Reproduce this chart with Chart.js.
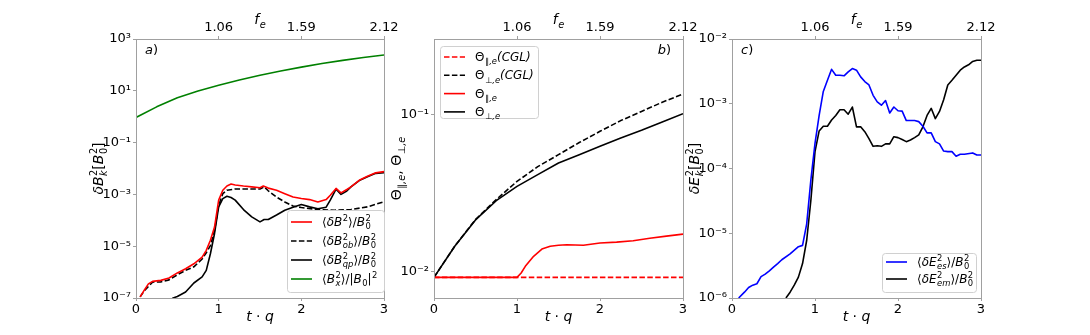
<!DOCTYPE html>
<html><head><meta charset="utf-8">
<script src="https://cdn.jsdelivr.net/npm/chart.js@4/dist/chart.umd.min.js"></script>
<style>
html,body{margin:0;padding:0;background:#fff;}
#wrap{position:relative;width:1090px;height:335px;overflow:hidden;background:#fff;}
canvas{position:absolute;top:0;left:0;}
</style></head>
<body><div id="wrap">
<canvas id="ca" width="1090" height="335"></canvas>
<canvas id="cb" width="1090" height="335"></canvas>
<canvas id="cc" width="1090" height="335"></canvas>
</div>
<script>
// ---------- data ----------
const tTicks = [0, 1, 2, 3];
const feTicks = ['1.06', '1.59', '2.12'];   // top axis labels at t = 1, 2, 3

// panel a
const tBx = [0, 0.25, 0.5, 0.75, 1, 1.25, 1.5, 1.75, 2, 2.25, 2.5, 2.75, 3];
const vBx = [0.93, 2.4, 5.4, 9.8, 16.3, 26, 40, 58, 82, 113, 150, 192, 240];
const tDB = [0.05,0.1,0.15,0.2,0.3,0.4,0.5,0.6,0.7,0.8,0.85,0.9,0.95,1.0,1.05,1.1,1.15,1.2,1.3,1.4,1.5,1.54,1.6,1.7,1.8,1.9,2.0,2.1,2.2,2.3,2.35,2.42,2.48,2.55,2.6,2.7,2.8,2.9,3.0];
const vDB = [1.1e-7,2.0e-7,3.5e-7,4.4e-7,4.8e-7,5.9e-7,9.3e-7,1.35e-6,2.1e-6,3.8e-6,6.9e-6,1.7e-5,5.5e-5,6.0e-4,1.45e-3,2.1e-3,2.5e-3,2.3e-3,2.1e-3,1.95e-3,1.8e-3,2.1e-3,1.75e-3,1.45e-3,1.07e-3,7.9e-4,6.9e-4,6.3e-4,5.1e-4,6.3e-4,9.3e-4,1.7e-3,1.15e-3,1.55e-3,1.95e-3,3.5e-3,5.0e-3,6.8e-3,7.6e-3];
const tOB = [0.05,0.1,0.2,0.3,0.4,0.5,0.6,0.7,0.8,0.85,0.9,0.95,1.0,1.05,1.1,1.2,1.3,1.4,1.5,1.55,1.6,1.7,1.8,1.9,2.0,2.2,2.4,2.6,2.8,3.0];
const vOB = [1.1e-7,1.9e-7,4.1e-7,4.2e-7,5.0e-7,7.9e-7,1.17e-6,1.6e-6,3.2e-6,5.6e-6,1.05e-5,4.0e-5,3.8e-4,1.07e-3,1.45e-3,1.62e-3,1.62e-3,1.62e-3,1.62e-3,1.95e-3,1.38e-3,7.9e-4,5.1e-4,3.55e-4,3.1e-4,2.6e-4,2.45e-4,2.6e-4,3.3e-4,5.2e-4];
const tQP = [0.3,0.45,0.5,0.6,0.7,0.8,0.85,0.9,0.95,1.0,1.05,1.1,1.15,1.2,1.3,1.4,1.5,1.55,1.6,1.7,1.8,1.9,2.0,2.1,2.2,2.3,2.35,2.42,2.48,2.55,2.6,2.7,2.8,2.9,3.0];
const vQP = [5e-8,1.0e-7,1.15e-7,1.7e-7,3.8e-7,6.5e-7,1.17e-6,5.1e-6,3.1e-5,3.3e-4,6.9e-4,8.5e-4,7.6e-4,6.0e-4,2.6e-4,1.35e-4,8.7e-5,1.07e-4,1.07e-4,1.6e-4,2.45e-4,3.2e-4,4.1e-4,3.3e-4,2.8e-4,3.2e-4,6.0e-4,1.6e-3,1.0e-3,1.35e-3,1.95e-3,3.4e-3,4.8e-3,6.5e-3,6.9e-3];
const aTicks = [1e-7, 1e-5, 1e-3, 1e-1, 10, 1000];
const aTickLabels = ['10⁻⁷', '10⁻⁵', '10⁻³', '10⁻¹', '10¹', '10³'];

// panel b
const tTh = [0, 0.25, 0.5, 0.75, 1, 1.25, 1.5, 1.75, 2, 2.25, 2.5, 2.75, 3];
const vPerpCGL = [0.0092, 0.0145, 0.0214, 0.0287, 0.0374, 0.0464, 0.0553, 0.066, 0.0778, 0.091, 0.104, 0.119, 0.134];
const vPerp = [0.0092, 0.0145, 0.0213, 0.0282, 0.0348, 0.0413, 0.049, 0.0553, 0.0625, 0.0705, 0.0789, 0.089, 0.1007];
const tParCGL = [0, 3];
const vParCGL = [0.0092, 0.0092];
const tPar = [0, 0.5, 0.95, 1.0, 1.05, 1.1, 1.2, 1.3, 1.4, 1.5, 1.6, 1.8, 2.0, 2.2, 2.4, 2.6, 2.8, 3.0];
const vPar = [0.0092, 0.0092, 0.0092, 0.0092, 0.0098, 0.0108, 0.0125, 0.0139, 0.0145, 0.0147, 0.0148, 0.0147, 0.0152, 0.0154, 0.0157, 0.0163, 0.0168, 0.0173];
const bTicks = [0.01, 0.1];
const bTickLabels = ['10⁻²', '10⁻¹'];

// panel c
const tES = [0.08,0.15,0.2,0.25,0.3,0.35,0.4,0.45,0.5,0.55,0.6,0.7,0.8,0.85,0.9,0.95,1.0,1.05,1.1,1.15,1.2,1.25,1.3,1.35,1.4,1.45,1.5,1.55,1.6,1.65,1.7,1.75,1.8,1.85,1.9,1.95,2.0,2.05,2.1,2.2,2.25,2.3,2.35,2.4,2.45,2.5,2.55,2.6,2.65,2.7,2.75,2.8,2.9,2.95,3.0];
const vES = [1.0e-6,1.23e-6,1.45e-6,1.58e-6,1.66e-6,2.14e-6,2.34e-6,2.63e-6,3.0e-6,3.4e-6,3.9e-6,4.8e-6,6.2e-6,6.5e-6,1.4e-5,6.6e-5,2.45e-4,6.6e-4,1.55e-3,2.3e-3,3.4e-3,2.75e-3,2.75e-3,2.7e-3,3.1e-3,3.5e-3,3.3e-3,2.6e-3,2.2e-3,1.95e-3,1.35e-3,1.07e-3,9.5e-4,1.12e-3,7.2e-4,8.9e-4,7.8e-4,7.7e-4,5.5e-4,5.5e-4,5.3e-4,4.5e-4,3.55e-4,3.55e-4,2.6e-4,2.4e-4,1.86e-4,1.82e-4,1.82e-4,1.55e-4,1.66e-4,1.66e-4,1.74e-4,1.62e-4,1.62e-4];
const tEM = [0.65,0.7,0.75,0.8,0.85,0.9,0.95,1.0,1.05,1.1,1.15,1.2,1.25,1.3,1.35,1.4,1.45,1.5,1.55,1.6,1.65,1.7,1.75,1.8,1.85,1.9,1.95,2.0,2.05,2.1,2.15,2.2,2.25,2.3,2.35,2.4,2.45,2.5,2.55,2.6,2.65,2.7,2.75,2.8,2.85,2.9,2.95,3.0];
const vEM = [1.0e-6,1.23e-6,1.58e-6,2.1e-6,3.4e-6,7.8e-6,3.2e-5,1.82e-4,3.8e-4,4.5e-4,4.5e-4,5.6e-4,6.6e-4,8.1e-4,8.1e-4,6.9e-4,8.9e-4,4.4e-4,4.4e-4,3.7e-4,2.9e-4,2.2e-4,2.24e-4,2.2e-4,2.4e-4,2.4e-4,3.1e-4,3.0e-4,2.8e-4,2.6e-4,2.75e-4,3.0e-4,3.3e-4,4.4e-4,6.6e-4,8.5e-4,5.9e-4,7.6e-4,1.15e-3,1.95e-3,2.3e-3,2.75e-3,3.3e-3,3.7e-3,4.0e-3,4.5e-3,4.7e-3,4.7e-3];
const cTicks = [1e-6, 1e-5, 1e-4, 1e-3, 1e-2];
const cTickLabels = ['10⁻⁶', '10⁻⁵', '10⁻⁴', '10⁻³', '10⁻²'];

// ---------- rich text helpers ----------
const FONT = '"DejaVu Sans", sans-serif';
function fnt(size, it) { return (it ? 'italic ' : '') + size + 'px ' + FONT; }
function partWidth(ctx, p, size) {
  ctx.font = fnt(size, p.i);
  let w = ctx.measureText(p.t || '').width;
  const ss = size * 0.7;
  let ws = 0;
  if (p.sup) { ctx.font = fnt(ss, p.si); ws = Math.max(ws, ctx.measureText(p.sup).width); }
  if (p.sub) { ctx.font = fnt(ss, p.bi); ws = Math.max(ws, ctx.measureText(p.sub).width); }
  return w + ws + (ws ? 0.5 : 0);
}
function richWidth(ctx, parts, size) { return parts.reduce((s, p) => s + partWidth(ctx, p, size), 0); }
function drawRich(ctx, parts, x, y, size, align, color) {
  ctx.save();
  ctx.fillStyle = color || '#000';
  ctx.textBaseline = 'alphabetic';
  ctx.textAlign = 'left';
  const W = richWidth(ctx, parts, size);
  let cx = align === 'center' ? x - W / 2 : (align === 'right' ? x - W : x);
  const ss = size * 0.7;
  for (const p of parts) {
    ctx.font = fnt(size, p.i);
    ctx.fillText(p.t || '', cx, y);
    let w = ctx.measureText(p.t || '').width;
    const sx = cx + w + 0.5;
    let ws = 0;
    if (p.sup) { ctx.font = fnt(ss, p.si); ctx.fillText(p.sup, sx, y - size * 0.42); ws = Math.max(ws, ctx.measureText(p.sup).width); }
    if (p.sub) { ctx.font = fnt(ss, p.bi); ctx.fillText(p.sub, sx, y + size * 0.27); ws = Math.max(ws, ctx.measureText(p.sub).width); }
    cx += w + ws + (ws ? 0.5 : 0);
  }
  ctx.restore();
}

const xTitle = [{t: 't', i: 1}, {t: ' · '}, {t: 'q', i: 1}];
const topTitle = [{t: 'f', i: 1, sub: 'e', bi: 1}];

function pts(ts, vs) { return ts.map((t, k) => ({x: t, y: vs[k]})); }

function deco(cfg) {
  return {
    id: 'deco',
    afterDraw(chart) {
      const ctx = chart.ctx, a = chart.chartArea;
      ctx.save();
      ctx.strokeStyle = '#a0a0a0';
      ctx.lineWidth = 1;
      ctx.strokeRect(Math.round(a.left) + 0.5, Math.round(a.top) + 0.5, Math.round(a.right - a.left), Math.round(a.bottom - a.top));
      ctx.restore();
      const cxm = (a.left + a.right) / 2;
      drawRich(ctx, xTitle, cxm, 321, 14, 'center');
      drawRich(ctx, topTitle, cxm, 24, 14, 'center');
      // y title rotated
      ctx.save();
      ctx.translate(a.left - 33, (a.top + a.bottom) / 2);
      ctx.rotate(-Math.PI / 2);
      drawRich(ctx, cfg.yTitle, 0, 0, 14, 'center');
      ctx.restore();
      // panel tag
      drawRich(ctx, cfg.tag, cfg.tagRight ? a.right - 12 : a.left + 9, a.top + 15, 13, cfg.tagRight ? 'right' : 'left');
      // legend
      const L = cfg.legend;
      ctx.save();
      ctx.fillStyle = 'rgba(255,255,255,0.85)';
      ctx.strokeStyle = '#d0d0d0';
      ctx.lineWidth = 1;
      ctx.beginPath();
      ctx.roundRect(a.left + L.x + 0.5, a.top + L.y + 0.5, L.w, L.h, 3);
      ctx.fill(); ctx.stroke();
      ctx.restore();
      L.items.forEach((it, k) => {
        const ds = chart.data.datasets[it.ds];
        const yy = a.top + L.y + L.first + k * L.step;
        ctx.save();
        ctx.strokeStyle = ds.borderColor;
        ctx.lineWidth = ds.borderWidth;
        ctx.setLineDash(ds.borderDash || []);
        ctx.beginPath();
        ctx.moveTo(a.left + L.x + 4, yy); ctx.lineTo(a.left + L.x + 25, yy);
        ctx.stroke();
        ctx.restore();
        drawRich(ctx, it.label, a.left + L.x + 35, yy + 4, 12, 'left');
      });
    }
  };
}

// plot areas: a 136..384, b 434..683, c 732..981, top 39, bottom 298
function makeChart(id, datasets, yMin, yMax, yTicks, yLabels, leftPad, yWidth, rightPad, cfg) {
  return new Chart(document.getElementById(id), {
    type: 'line',
    data: {datasets},
    options: {
      responsive: false, animation: false, devicePixelRatio: 1,
      layout: {padding: {left: leftPad, right: rightPad, top: 0, bottom: 0}},
      plugins: {legend: {display: false}, tooltip: {enabled: false}},
      elements: {point: {radius: 0}, line: {tension: 0, borderJoinStyle: 'round'}},
      scales: {
        x: {
          type: 'linear', position: 'bottom', min: 0, max: 3,
          afterBuildTicks: s => { s.ticks = tTicks.map(v => ({value: v})); },
          ticks: {color: '#000', font: {family: FONT, size: 13}, padding: 1, maxRotation: 0, autoSkip: false, callback: v => String(v)},
          grid: {display: true, drawOnChartArea: false, tickLength: 3, color: '#a0a0a0'},
          border: {display: false},
          afterFit: s => { s.height = 37; }
        },
        x2: {
          type: 'linear', position: 'top', min: 0, max: 3, axis: 'x',
          afterBuildTicks: s => { s.ticks = [1, 2, 3].map(v => ({value: v})); },
          ticks: {color: '#000', font: {family: FONT, size: 13}, padding: 1, maxRotation: 0, autoSkip: false,
            callback: (v, i) => feTicks[i]},
          grid: {display: true, drawOnChartArea: false, tickLength: 3, color: '#a0a0a0'},
          border: {display: false},
          afterFit: s => { s.height = 39; }
        },
        y: {
          type: 'logarithmic', min: yMin, max: yMax,
          afterBuildTicks: s => { s.ticks = yTicks.map(v => ({value: v})); },
          ticks: {color: '#000', font: {family: FONT, size: 13}, padding: 2, autoSkip: false,
            callback: (v, i) => yLabels[i]},
          grid: {display: true, drawOnChartArea: false, tickLength: 3, color: '#a0a0a0'},
          border: {display: false},
          afterFit: s => { s.width = yWidth; }
        }
      }
    },
    plugins: [deco(cfg)]
  });
}

const LW = 1.6;
const DASH = [5.5, 2.4];

// panel a
makeChart('ca', [
  {data: pts(tDB, vDB), borderColor: '#ff0000', borderWidth: LW, clip: 0},
  {data: pts(tOB, vOB), borderColor: '#000000', borderWidth: LW, borderDash: DASH, clip: 0},
  {data: pts(tQP, vQP), borderColor: '#000000', borderWidth: LW, clip: 0},
  {data: pts(tBx, vBx), borderColor: '#008000', borderWidth: LW, clip: 0}
], 1e-7, 1e3, aTicks, aTickLabels, 86, 50, 1090 - 384, {
  yTitle: [{t: 'δB', i: 1, sup: '2', sub: 'k', bi: 1}, {t: '['}, {t: 'B', i: 1, sup: '2', sub: '0'}, {t: ']'}],
  tag: [{t: 'a', i: 1}, {t: ')'}], tagRight: false,
  legend: {x: 151, y: 171, w: 97, h: 82, first: 12, step: 19, items: [
    {ds: 0, label: [{t: '⟨'}, {t: 'δB', i: 1, sup: '2'}, {t: '⟩/'}, {t: 'B', i: 1, sup: '2', sub: '0'}]},
    {ds: 1, label: [{t: '⟨'}, {t: 'δB', i: 1, sup: '2', sub: 'ob', bi: 1}, {t: '⟩/'}, {t: 'B', i: 1, sup: '2', sub: '0'}]},
    {ds: 2, label: [{t: '⟨'}, {t: 'δB', i: 1, sup: '2', sub: 'qp', bi: 1}, {t: '⟩/'}, {t: 'B', i: 1, sup: '2', sub: '0'}]},
    {ds: 3, label: [{t: '⟨'}, {t: 'B', i: 1, sup: '2', sub: 'x', bi: 1}, {t: '⟩/|'}, {t: 'B', i: 1, sub: '0'}, {t: '|', sup: '2'}]}
  ]}
});

// panel b
makeChart('cb', [
  {data: pts(tParCGL, vParCGL), borderColor: '#ff0000', borderWidth: LW, borderDash: DASH, clip: 0},
  {data: pts(tTh, vPerpCGL), borderColor: '#000000', borderWidth: LW, borderDash: DASH, clip: 0},
  {data: pts(tPar, vPar), borderColor: '#ff0000', borderWidth: LW, clip: 0},
  {data: pts(tTh, vPerp), borderColor: '#000000', borderWidth: LW, clip: 0}
], 0.0068, 0.30, bTicks, bTickLabels, 384, 50, 1090 - 683, {
  yTitle: [{t: 'Θ', sub: '∥,e', bi: 1}, {t: ', '}, {t: 'Θ', sub: '⊥,e', bi: 1}],
  tag: [{t: 'b', i: 1}, {t: ')'}], tagRight: true,
  legend: {x: 6, y: 7, w: 98, h: 72, first: 11, step: 18.3, items: [
    {ds: 0, label: [{t: 'Θ', sub: '∥,e', bi: 1}, {t: '(CGL)', i: 1}]},
    {ds: 1, label: [{t: 'Θ', sub: '⊥,e', bi: 1}, {t: '(CGL)', i: 1}]},
    {ds: 2, label: [{t: 'Θ', sub: '∥,e', bi: 1}]},
    {ds: 3, label: [{t: 'Θ', sub: '⊥,e', bi: 1}]}
  ]}
});

// panel c
makeChart('cc', [
  {data: pts(tES, vES), borderColor: '#0000ff', borderWidth: LW, clip: 0},
  {data: pts(tEM, vEM), borderColor: '#000000', borderWidth: LW, clip: 0}
], 1e-6, 1e-2, cTicks, cTickLabels, 682, 50, 1090 - 981, {
  yTitle: [{t: 'δE', i: 1, sup: '2', sub: 'k', bi: 1}, {t: '['}, {t: 'B', i: 1, sup: '2', sub: '0'}, {t: ']'}],
  tag: [{t: 'c', i: 1}, {t: ')'}], tagRight: false,
  legend: {x: 150, y: 214, w: 94, h: 39, first: 9, step: 17, items: [
    {ds: 0, label: [{t: '⟨'}, {t: 'δE', i: 1, sup: '2', sub: 'es', bi: 1}, {t: '⟩/'}, {t: 'B', i: 1, sup: '2', sub: '0'}]},
    {ds: 1, label: [{t: '⟨'}, {t: 'δE', i: 1, sup: '2', sub: 'em', bi: 1}, {t: '⟩/'}, {t: 'B', i: 1, sup: '2', sub: '0'}]}
  ]}
});
</script>
</body></html>
